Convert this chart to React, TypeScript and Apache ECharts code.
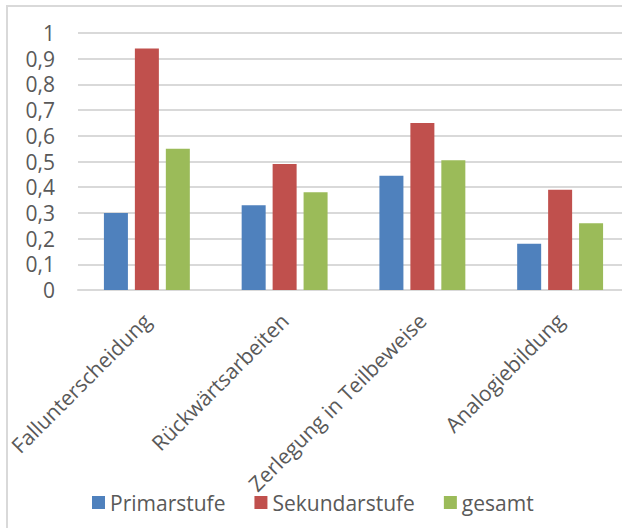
import React, { useEffect, useRef } from "react";
import * as echarts from "echarts";

const categories = [
  "Fallunterscheidung",
  "Rückwärtsarbeiten",
  "Zerlegung in Teilbeweise",
  "Analogiebildung",
];
const primarstufe = [0.3, 0.33, 0.445, 0.18];
const sekundarstufe = [0.94, 0.49, 0.65, 0.39];
const gesamt = [0.55, 0.38, 0.505, 0.26];
const seriesNames = ["Primarstufe", "Sekundarstufe", "gesamt"];
const colors = ["#4F81BD", "#C0504D", "#9BBB59"];

const FONT = "'Open Sans', sans-serif";
const TEXT = "#595959";
const LINE = "#D9D9D9";

export default function App() {
  const ref = useRef<HTMLDivElement>(null);

  useEffect(() => {
    if (!ref.current) return;
    const chart = echarts.init(ref.current, undefined, { renderer: "svg" });
    const values = [primarstufe, sekundarstufe, gesamt];
    chart.setOption({
      animation: false,
      backgroundColor: "#ffffff",
      textStyle: { fontFamily: FONT },
      graphic: [
        {
          type: "rect",
          shape: { x: 7, y: 6, width: 1000, height: 1000 },
          style: { fill: "none", stroke: LINE, lineWidth: 2 },
          silent: true,
        },
      ],
      grid: { left: 78, top: 33, width: 551, height: 257 },
      legend: {
        left: 92,
        top: 492,
        padding: 0,
        itemWidth: 13,
        itemHeight: 13,
        itemGap: 29,
        icon: "rect",
        textStyle: { fontFamily: FONT, fontSize: 21, color: TEXT },
        data: seriesNames,
      },
      xAxis: {
        type: "category",
        data: categories,
        axisTick: { show: false },
        axisLine: { lineStyle: { color: LINE, width: 2 } },
        axisLabel: {
          rotate: 45,
          interval: 0,
          margin: 27,
          fontFamily: FONT,
          fontSize: 21,
          color: TEXT,
        },
      },
      yAxis: {
        type: "value",
        min: 0,
        max: 1,
        interval: 0.1,
        axisLine: { show: false },
        axisTick: { show: false },
        splitLine: { lineStyle: { color: LINE, width: 2 } },
        axisLabel: {
          margin: 23,
          fontFamily: FONT,
          fontSize: 21,
          color: TEXT,
          formatter: (v: number) => String(Math.round(v * 10) / 10).replace(".", ","),
        },
      },
      series: seriesNames.map((name, i) => ({
        name,
        type: "bar",
        data: values[i],
        barWidth: 24,
        barGap: "29%",
        itemStyle: { color: colors[i] },
      })),
    });
    return () => chart.dispose();
  }, []);

  return (
    <div
      style={{
        position: "absolute",
        left: 0,
        top: 0,
        width: 622,
        height: 528,
        overflow: "hidden",
        background: "#fff",
      }}
    >
      <div ref={ref} style={{ width: 660, height: 528 }} />
    </div>
  );
}
